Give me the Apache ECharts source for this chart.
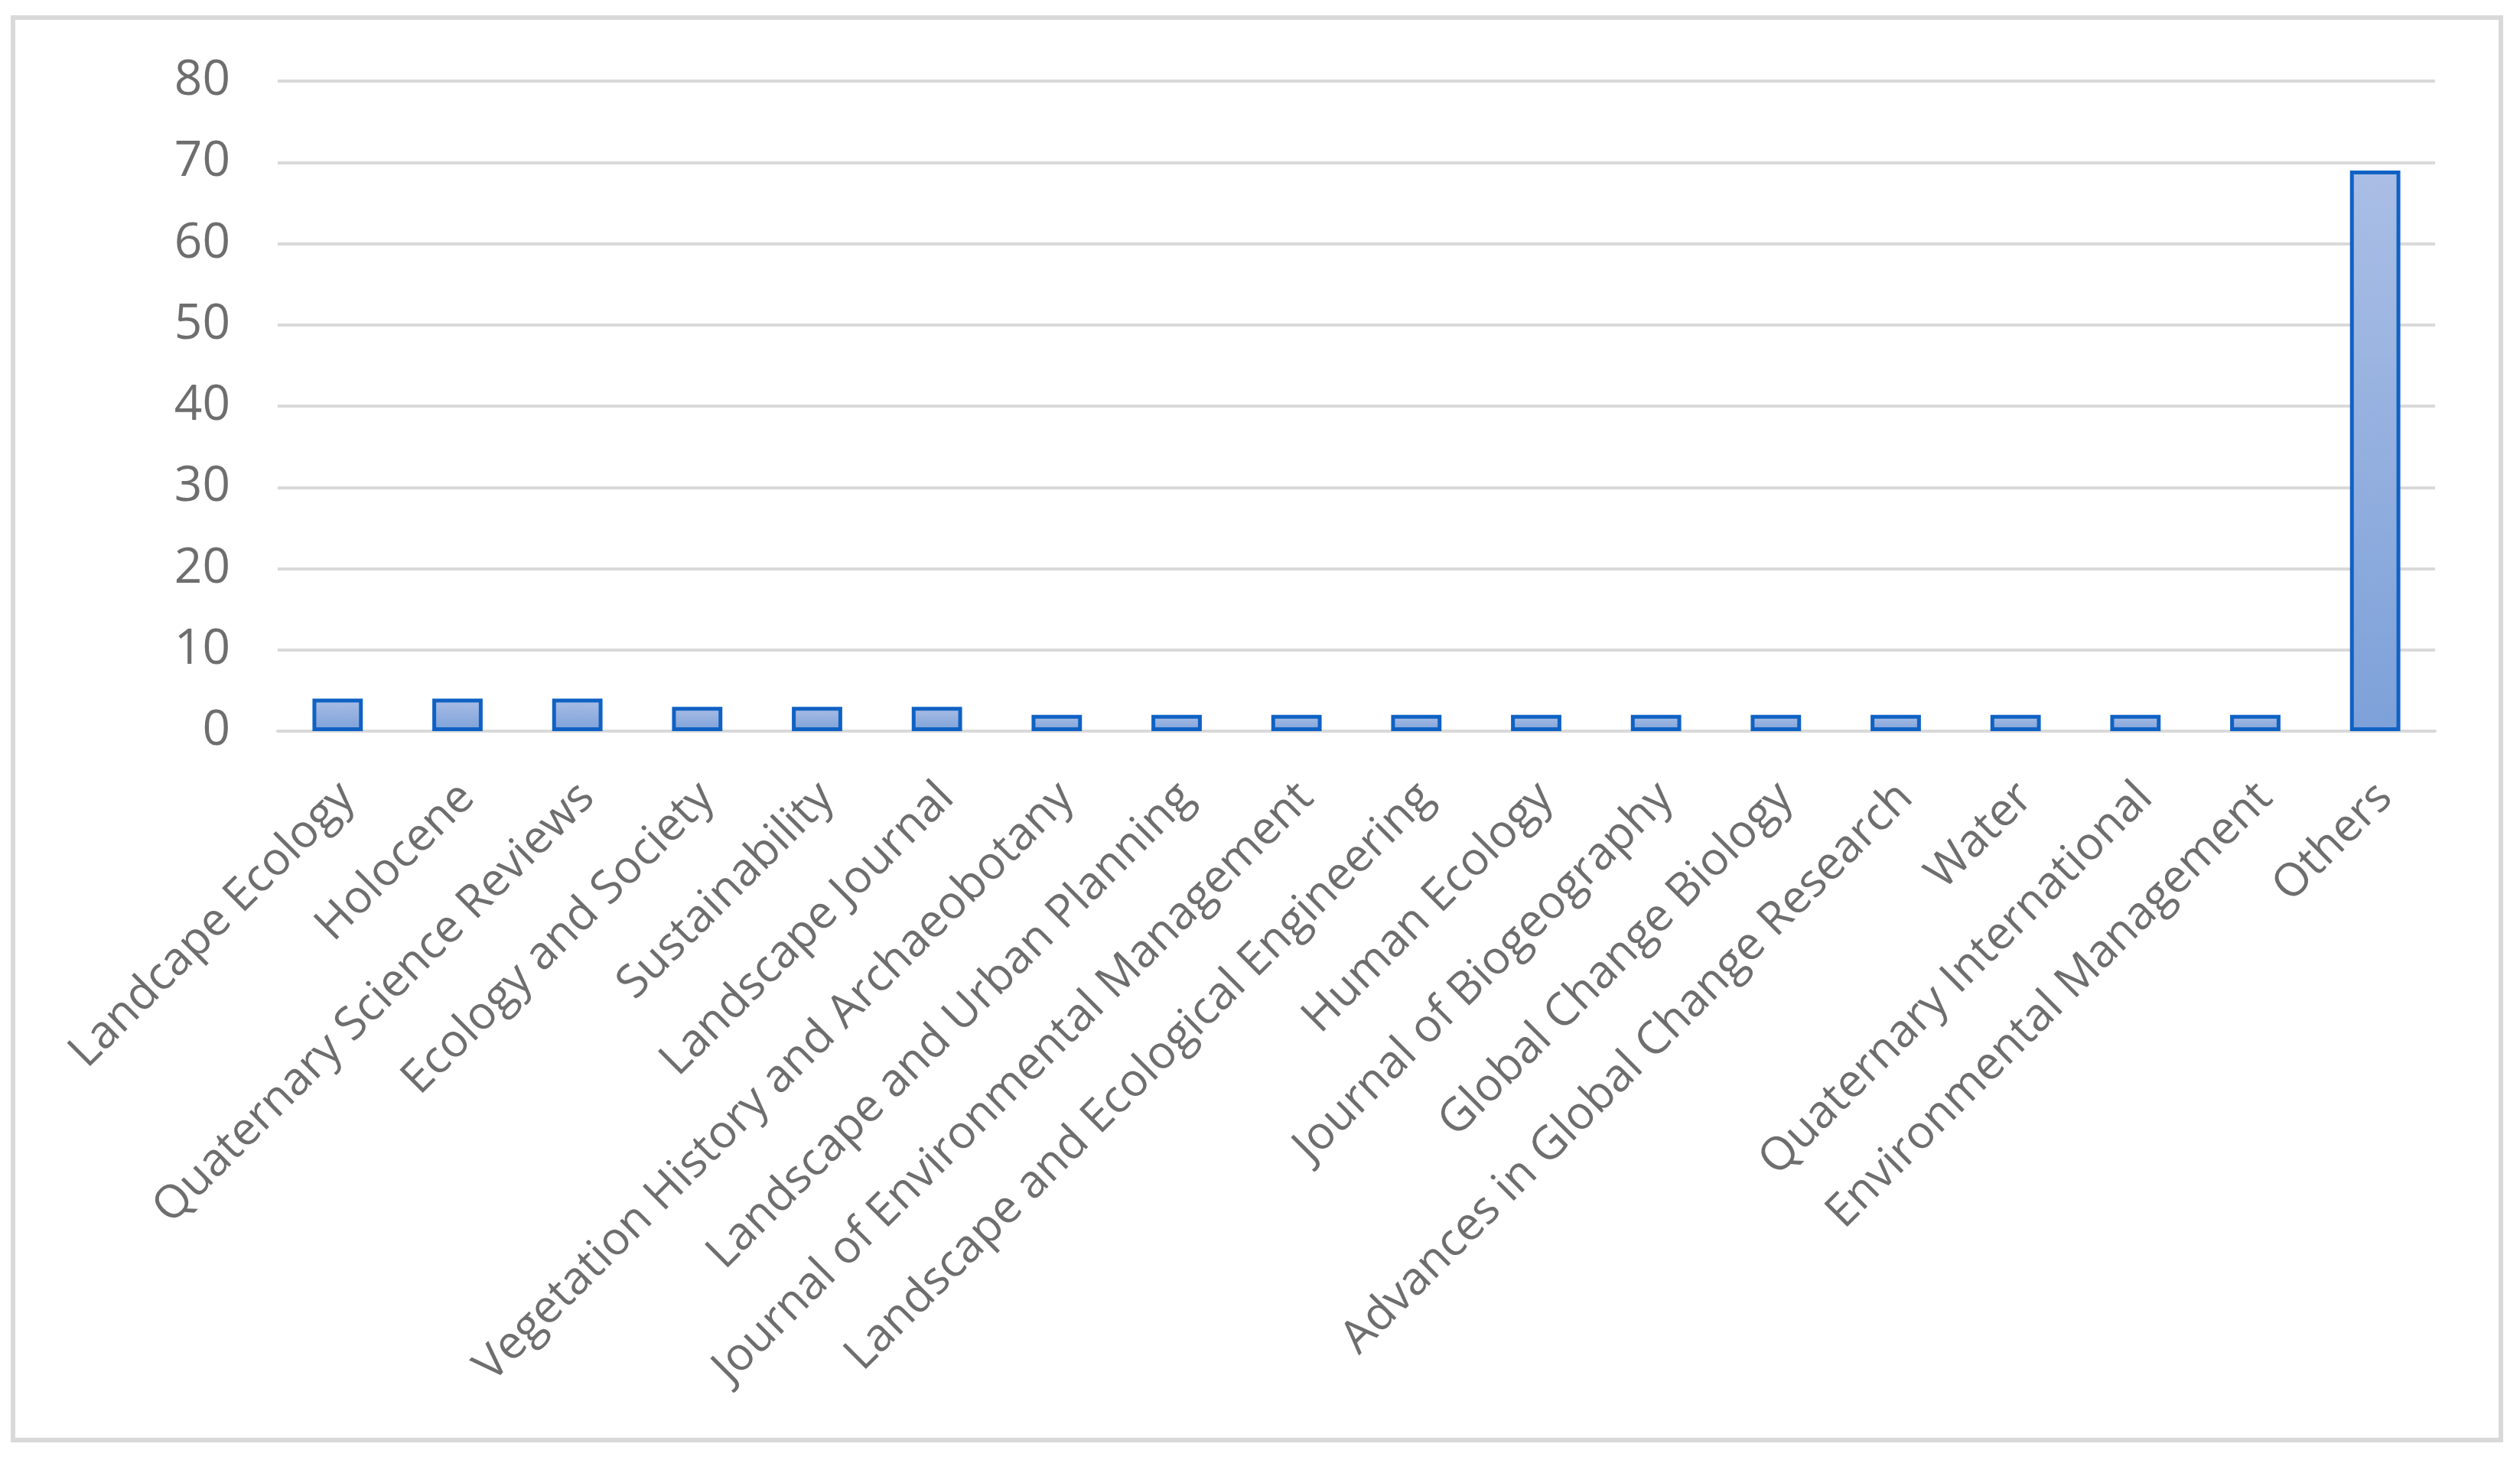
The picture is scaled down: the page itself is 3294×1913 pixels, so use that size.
<!DOCTYPE html>
<html>
<head>
<meta charset="utf-8">
<title>Journals</title>
<script src="https://cdn.jsdelivr.net/npm/echarts@6/dist/echarts.min.js"></script>
<style>
	html, body { margin: 0; padding: 0; background: #fff; }
	#main { width: 3294px; height: 1913px; }
</style>
</head>
<body>
<div id="main"></div>
<script>
	// journal names on the x axis
	var journals = [
		'Landcape Ecology', 'Holocene', 'Quaternary Science Reviews',
		'Ecology and Society', 'Sustainability', 'Landscape Journal',
		'Vegetation History and Archaeobotany', 'Landscape and Urban Planning',
		'Journal of Environmental Management', 'Landscape and Ecological Engineering',
		'Human Ecology', 'Journal of Biogeography', 'Global Change Biology',
		'Advances in Global Change Research', 'Water', 'Quaternary International',
		'Environmental Management', 'Others'
	];
	// number of papers per journal
	var counts = [4, 4, 4, 3, 3, 3, 2, 2, 2, 2, 2, 2, 2, 2, 2, 2, 2, 69];
	// y axis ticks
	var yTicks = [0, 10, 20, 30, 40, 50, 60, 70, 80];

	var font = '"Open Sans", "Noto Sans", sans-serif';
	var chart = echarts.init(document.getElementById('main'));
	var option = {
		backgroundColor: '#fff',
		animation: false,
		graphic: [{
			type: 'rect',
			shape: { x: 17, y: 23, width: 3252, height: 1860 },
			style: { fill: 'none', stroke: '#d9d9d9', lineWidth: 6 },
			silent: true
		}],
		grid: {
			left: 363,
			right: 111,
			top: 106,
			bottom: 957,
			containLabel: false,
			outerBoundsMode: 'none'
		},
		xAxis: {
			type: 'category',
			data: journals,
			axisLine: { show: true, lineStyle: { color: '#d9d9d9', width: 4 } },
			axisTick: { show: false },
			axisLabel: {
				interval: 0,
				rotate: 45,
				margin: 65,
				verticalAlign: 'top',
				lineHeight: 36,
				color: '#6e6e6e',
				fontFamily: font,
				fontSize: 60
			}
		},
		yAxis: {
			type: 'value',
			min: yTicks[0],
			max: yTicks[yTicks.length - 1],
			interval: 10,
			axisLine: { show: false },
			axisTick: { show: false },
			splitLine: { lineStyle: { color: '#d9d9d9', width: 4 } },
			axisLabel: {
				margin: 62,
				color: '#6e6e6e',
				fontFamily: font,
				fontSize: 64
			}
		},
		series: [{
			type: 'bar',
			data: counts,
			barWidth: '42%',
			itemStyle: {
				color: new echarts.graphic.LinearGradient(0, 0, 0, 1, [
					{ offset: 0, color: '#aabee5' },
					{ offset: 1, color: '#7da1d9' }
				]),
				borderColor: '#0f62c4',
				borderWidth: 5
			}
		}]
	};
	chart.setOption(option);
</script>
</body>
</html>
